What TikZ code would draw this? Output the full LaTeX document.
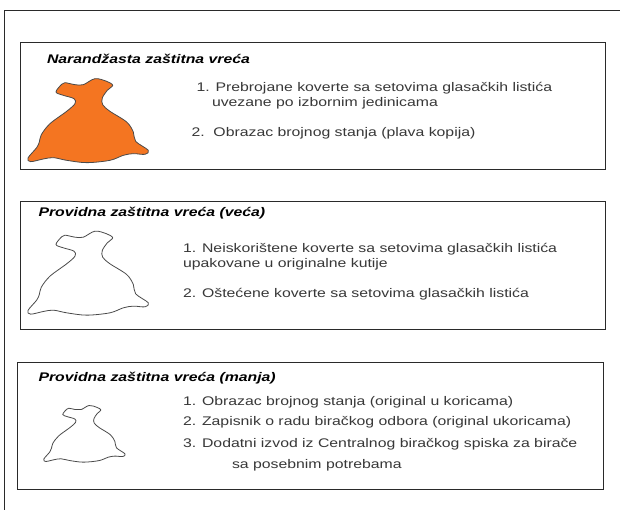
\documentclass[tikz,border=0pt]{standalone}
\usepackage{fontspec}
\setmainfont{Liberation Sans}[FakeStretch=1.265]
\definecolor{bagorange}{HTML}{F47521}
\definecolor{txt}{HTML}{383838}
\definecolor{ln}{HTML}{2A2A2A}
\tikzset{
  panel/.style={draw=ln,line width=0.9pt,fill=white},
  frameline/.style={draw=ln,line width=0.9pt},
  item/.style={anchor=base west,inner sep=0pt,outer sep=0pt,text=txt,font=\fontsize{12.5}{14}\selectfont},
  heading/.style={anchor=base west,inner sep=0pt,outer sep=0pt,text=black,font=\fontsize{12.5}{14}\selectfont\bfseries\itshape},
  bagline/.style={draw=ln!85,line width=0.8pt,line join=round}
}
% outline traced in units of one third of a pixel
\newcommand{\bagpath}{plot[smooth cycle,tension=0.55] coordinates {
 (168,276) (185,253) (195,248) (225,254) (250,254) (285,236) (320,244) (338,256)
 (322,271) (307,294) (308,314) (330,334) (380,366) (400,396) (407,424) (445,451)
 (435,463) (400,461) (370,466) (330,481) (260,488) (200,481) (160,473) (130,477)
 (92,485) (84,474) (110,443) (118,426) (124,404) (150,371) (200,334) (225,311) (222,296) (190,286)}}
\begin{document}
\begin{tikzpicture}[x=1pt,y=-1pt]
\useasboundingbox (0,0) rectangle (620,510);
\fill[white] (0,0) rectangle (620,510);
\coordinate (ftl) at (4.5,10.5);
\coordinate (ftr) at (620,10.5);
\coordinate (fbl) at (4.5,510);
\draw[frameline] (fbl) -- (ftl) -- (ftr);
\node[panel,minimum width=584.8pt,minimum height=127pt,inner sep=0pt,anchor=north west] (p1) at (20.2,42.3) {};
\node[panel,minimum width=584.8pt,minimum height=127pt,inner sep=0pt,anchor=north west] (p2) at (20.2,201.5) {};
\node[panel,minimum width=585.4pt,minimum height=127pt,inner sep=0pt,anchor=north west] (p3) at (17.3,362.3) {};
% bags
\begin{scope}[x=0.3333pt,y=-0.3333pt]
\draw[bagline,fill=bagorange] \bagpath;
\end{scope}
\begin{scope}[shift={(0,152.5)},x=0.3333pt,y=-0.3333pt]
\draw[bagline,fill=white] \bagpath;
\end{scope}
\begin{scope}[shift={(25,352.5)},x=0.2247pt,y=-0.2247pt]
\draw[bagline,fill=white] \bagpath;
\end{scope}
% panel 1
\node[heading] (h1) at (47,64) {Narandžasta zaštitna vreća};
\node[item] (a1) at (196.5,92) {1. Prebrojane koverte sa setovima glasačkih listića};
\node[item] (a2) at (212,106.5) {uvezane po izbornim jedinicama};
\node[item] (a3) at (191.5,137) {2.\ \ Obrazac brojnog stanja (plava kopija)};
% panel 2
\node[heading] (h2) at (38.5,216.5) {Providna zaštitna vreća (veća)};
\node[item] (b1) at (183,253) {1. Neiskorištene koverte sa setovima glasačkih listića};
\node[item] (b2) at (183,267.5) {upakovane u originalne kutije};
\node[item] (b3) at (183,297) {2. Oštećene koverte sa setovima glasačkih listića};
% panel 3
\node[heading] (h3) at (38.5,381) {Providna zaštitna vreća (manja)};
\node[item] (c1) at (183,405) {1. Obrazac brojnog stanja (original u koricama)};
\node[item] (c2) at (183,425.5) {2. Zapisnik o radu biračkog odbora (original ukoricama)};
\node[item] (c3) at (183,447) {3. Dodatni izvod iz Centralnog biračkog spiska za birače};
\node[item] (c4) at (232,468.5) {sa posebnim potrebama};
\end{tikzpicture}
\end{document}
